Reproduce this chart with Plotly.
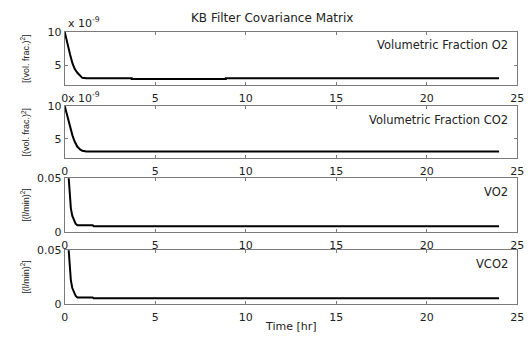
import plotly.graph_objects as go

W, H = 532, 341

# ---- data ----
t_o2 = [0, 0.08, 0.16, 0.3, 0.43, 0.55, 0.7, 0.85, 0.97, 1.2, 3.7, 3.7, 8.9, 8.9, 24]
o2 = [10, 9.0, 8.1, 6.6, 5.3, 4.5, 3.9, 3.4, 3.15, 3.1, 3.1, 2.97, 2.97, 3.1, 3.1]  # x 1e-9

t_co2 = [0, 0.08, 0.16, 0.3, 0.43, 0.55, 0.7, 0.85, 0.97, 1.2, 24]
co2 = [10, 9.1, 8.4, 6.8, 5.5, 4.6, 3.8, 3.4, 3.2, 3.1, 3.1]  # x 1e-9

t_vo2 = [0, 0.1, 0.22, 0.28, 0.34, 0.42, 0.52, 0.6, 0.7, 1.55, 1.6, 24]
vo2 = [0.12, 0.08, 0.05, 0.033, 0.022, 0.015, 0.0107, 0.0078, 0.0063, 0.0062, 0.0054, 0.0054]

t_vco2 = [0, 0.1, 0.22, 0.28, 0.34, 0.42, 0.52, 0.6, 0.7, 1.55, 1.6, 24]
vco2 = [0.12, 0.08, 0.05, 0.033, 0.022, 0.015, 0.0107, 0.0078, 0.0063, 0.0062, 0.0054, 0.0054]

x_ticks = [0, 5, 10, 15, 20, 25]
panel_labels = ["Volumetric Fraction O2", "Volumetric Fraction CO2", "VO2", "VCO2"]
y_titles = ["[(vol. frac.)<sup>2</sup>]", "[(vol. frac.)<sup>2</sup>]",
            "[(l/min)<sup>2</sup>]", "[(l/min)<sup>2</sup>]"]

series = [(t_o2, o2), (t_co2, co2), (t_vo2, vo2), (t_vco2, vco2)]
yranges = [[2.1, 10], [2.1, 10], [0, 0.05], [0, 0.05]]
yticks = [[5, 10], [5, 10], [0, 0.05], [0, 0.05]]
ytext = [["5", "10"], ["5", "10"], ["0", "0.05"], ["0", "0.05"]]

# pixel layout of panels (top, bottom)
rows_px = [(27, 82), (104, 158), (179, 235), (254, 310)]
x0_px, x1_px = 62, 524

def px(x):
    return x / W

def py(y):
    return 1 - y / H

FONT = "DejaVu Sans"
AX = "#7a7a7a"

fig = go.Figure()
layout = dict(
    width=W, height=H, margin=dict(l=0, r=0, t=0, b=0),
    paper_bgcolor="white", plot_bgcolor="white", showlegend=False,
    font=dict(family=FONT, size=11, color="#222"),
)
annotations = []
for i, ((tt, vv), (top, bot)) in enumerate(zip(series, rows_px)):
    n = i + 1
    xa = "x" if n == 1 else f"x{n}"
    ya = "y" if n == 1 else f"y{n}"
    fig.add_trace(go.Scatter(x=tt, y=vv, mode="lines", xaxis=xa, yaxis=ya,
                             line=dict(color="black", width=2)))
    layout["xaxis" if n == 1 else f"xaxis{n}"] = dict(
        domain=[px(x0_px), px(x1_px)], anchor=ya, range=[0, 25],
        tickvals=x_ticks, ticks="inside", ticklen=3, tickcolor=AX,
        showline=True, linecolor=AX, linewidth=1, mirror="ticks",
        showgrid=False, zeroline=False, tickfont=dict(size=11, color="#222"),
        ticklabelstandoff=3,
    )
    layout["yaxis" if n == 1 else f"yaxis{n}"] = dict(
        domain=[py(bot), py(top)], anchor=xa, range=yranges[i],
        tickvals=yticks[i], ticktext=ytext[i], ticks="inside", ticklen=3,
        tickcolor=AX, showline=True, linecolor=AX, linewidth=1, mirror="ticks",
        showgrid=False, zeroline=False, tickfont=dict(size=11, color="#222"),
    )
    # panel label
    annotations.append(dict(text=panel_labels[i], x=px(517), y=py(top + 14),
                            xref="paper", yref="paper", xanchor="right",
                            yanchor="middle", showarrow=False,
                            font=dict(size=11.5, color="#222")))
    # y title
    annotations.append(dict(text=y_titles[i], x=px(22), y=py((top + bot) / 2),
                            xref="paper", yref="paper", xanchor="center",
                            yanchor="middle", textangle=-90, showarrow=False,
                            font=dict(family="Liberation Sans", size=9, color="#222")))

# exponent labels
for yy in [17, 95]:
    annotations.append(dict(text="x 10<sup>-9</sup>", x=px(63), y=py(yy),
                            xref="paper", yref="paper", xanchor="left",
                            yanchor="middle", showarrow=False,
                            font=dict(size=11, color="#222")))

annotations.append(dict(text="KB Filter Covariance Matrix", x=px(274), y=py(12),
                        xref="paper", yref="paper", xanchor="center",
                        yanchor="middle", showarrow=False,
                        font=dict(size=12, color="#222")))
annotations.append(dict(text="Time [hr]", x=px(293), y=0,
                        xref="paper", yref="paper", xanchor="center",
                        yanchor="bottom", showarrow=False, borderpad=0,
                        font=dict(size=11, color="#222")))
layout["annotations"] = annotations
fig.update_layout(**layout)
fig.write_html("out.html")
